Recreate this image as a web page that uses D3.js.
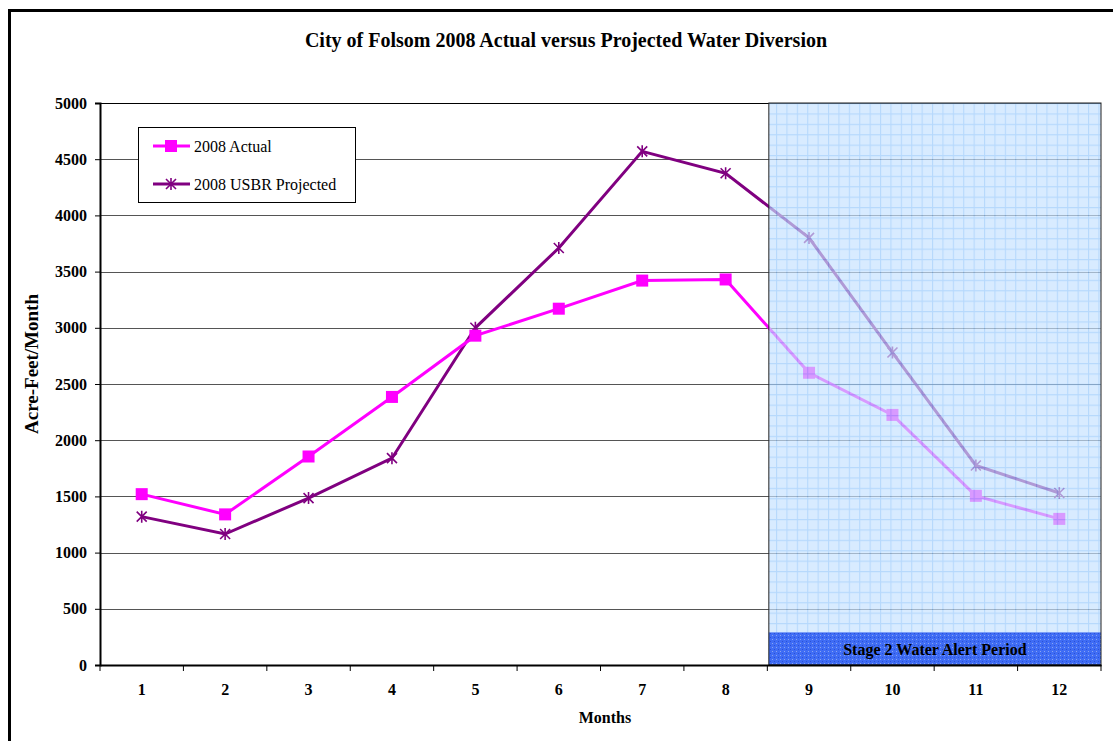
<!DOCTYPE html>
<html>
<head>
<meta charset="utf-8">
<script src="https://cdn.jsdelivr.net/npm/d3@7"></script>
<style>
body { margin: 0; background: #fff; }
text { font-family: "Liberation Serif", "Times New Roman", serif; }
</style>
</head>
<body>
<div id="canvas"></div>
<script>
const months = ["1", "2", "3", "4", "5", "6", "7", "8", "9", "10", "11", "12"]
const actual = [1520, 1340, 1855, 2385, 2930, 3170, 3420, 3430, 2600, 2225, 1505, 1300]
const projected = [1320, 1165, 1485, 1840, 3000, 3710, 4570, 4375, 3800, 2780, 1775, 1530]
const yTicks = [0, 500, 1000, 1500, 2000, 2500, 3000, 3500, 4000, 4500, 5000]
const alertMonths = ["9", "10", "11", "12"]

const width = 1113
const height = 741
const margin = { top: 103, left: 100, bottom: 76, right: 12 }
const iwidth = width - margin.left - margin.right
const iheight = height - margin.top - margin.bottom

const svg = d3.select("#canvas").append("svg")
    .attr("width", width)
    .attr("height", height)

// outer frame (runs off the right and bottom edge)
svg.append("rect")
    .attr("x", 9.5).attr("y", 10.5)
    .attr("width", 1120).attr("height", 760)
    .attr("fill", "none").attr("stroke", "#000").attr("stroke-width", 3)

svg.append("text")
    .attr("x", 566).attr("y", 47)
    .attr("text-anchor", "middle")
    .style("font-size", "20px").style("font-weight", "bold")
    .text("City of Folsom 2008 Actual versus Projected Water Diversion")

const defs = svg.append("defs")
const grid = defs.append("pattern")
    .attr("id", "grid").attr("patternUnits", "userSpaceOnUse")
    .attr("width", 10.4).attr("height", 10.4)
grid.append("rect").attr("width", 10.4).attr("height", 10.4).attr("fill", "#c6e2ff")
grid.append("path").attr("d", "M0,0.5H10.4M0.5,0V10.4")
    .attr("stroke", "#94c6fb").attr("stroke-width", 1.2)

const dots = defs.append("pattern")
    .attr("id", "dots").attr("patternUnits", "userSpaceOnUse")
    .attr("width", 4).attr("height", 4)
dots.append("rect").attr("width", 4).attr("height", 4).attr("fill", "#3f6cf4")
dots.append("rect").attr("width", 1).attr("height", 1).attr("fill", "#8aa4f0")
dots.append("rect").attr("x", 2).attr("y", 2).attr("width", 1).attr("height", 1).attr("fill", "#2950d8")

const g = svg.append("g")
    .attr("transform", `translate(${margin.left}, ${margin.top})`)

const x = d3.scaleBand()
    .domain(months)
    .range([0, iwidth])

const y = d3.scaleLinear()
    .domain([0, 5000])
    .range([iheight, 0])

// horizontal gridlines
g.selectAll(".grid")
    .data(yTicks.filter(d => d > 0))
    .enter()
    .append("line")
    .attr("x1", 0).attr("x2", iwidth)
    .attr("y1", d => Math.round(y(d)) + 0.5).attr("y2", d => Math.round(y(d)) + 0.5)
    .attr("stroke", d => d === 5000 ? "#000" : "#555")
    .attr("stroke-width", 1)

const lineGen = d3.line()
    .x((d, i) => x(months[i]) + x.bandwidth() / 2)
    .y(d => y(d))

g.append("path")
    .datum(projected)
    .attr("fill", "none").attr("stroke", "#800080").attr("stroke-width", 3)
    .attr("d", lineGen)

g.append("path")
    .datum(actual)
    .attr("fill", "none").attr("stroke", "#ff00ff").attr("stroke-width", 3)
    .attr("d", lineGen)

const star = (sel, s) => sel.append("path")
    .attr("d", `M${-s},${-s}L${s},${s}M${-s},${s}L${s},${-s}M0,${-s - 1}V${s + 1}`)
    .attr("stroke", "#800080").attr("stroke-width", 1.6).attr("fill", "none")

g.selectAll(".proj")
    .data(projected)
    .enter()
    .append("g")
    .attr("transform", (d, i) => `translate(${x(months[i]) + x.bandwidth() / 2}, ${y(d)})`)
    .each(function () { star(d3.select(this), 5) })

g.selectAll(".act")
    .data(actual)
    .enter()
    .append("rect")
    .attr("x", (d, i) => x(months[i]) + x.bandwidth() / 2 - 6)
    .attr("y", d => y(d) - 6)
    .attr("width", 12).attr("height", 12)
    .attr("fill", "#ff00ff")

// alert period overlay
const ax0 = x(alertMonths[0]) + 1.5
const ax1 = x(alertMonths[alertMonths.length - 1]) + x.bandwidth()
g.append("rect")
    .attr("x", ax0).attr("y", 0)
    .attr("width", ax1 - ax0).attr("height", iheight)
    .attr("fill", "url(#grid)").attr("opacity", 0.68)
g.append("rect")
    .attr("x", ax0).attr("y", y(290))
    .attr("width", ax1 - ax0).attr("height", iheight - y(290))
    .attr("fill", "url(#dots)")
g.append("rect")
    .attr("x", ax0).attr("y", 0)
    .attr("width", ax1 - ax0).attr("height", iheight)
    .attr("fill", "none").attr("stroke", "#222").attr("stroke-width", 1)
g.append("text")
    .attr("x", (ax0 + ax1) / 2).attr("y", y(145) + 6)
    .attr("text-anchor", "middle")
    .style("font-size", "16px").style("font-weight", "bold")
    .text("Stage 2 Water Alert Period")

// axes
const yAxis = g.append("g")
    .call(d3.axisLeft(y).tickValues(yTicks).tickFormat(d3.format("d")).tickSize(5).tickPadding(8))
yAxis.select(".domain").attr("stroke-width", 2)

const xAxis = g.append("g")
    .attr("transform", `translate(0, ${iheight})`)
    .call(d3.axisBottom(x).tickSize(0).tickPadding(19))
xAxis.select(".domain").attr("stroke-width", 2)
xAxis.selectAll(".bnd")
    .data(d3.range(months.length + 1))
    .enter()
    .append("line")
    .attr("x1", i => i * x.step()).attr("x2", i => i * x.step())
    .attr("y1", 0).attr("y2", 6)
    .attr("stroke", "#000")

g.selectAll(".tick text")
    .style("font-family", "Liberation Serif, serif")
    .style("font-size", "16px").style("font-weight", "bold")
    .attr("fill", "#000")

svg.append("text")
    .attr("transform", "translate(38, 364) rotate(-90)")
    .attr("text-anchor", "middle")
    .style("font-size", "19px").style("font-weight", "bold")
    .text("Acre-Feet/Month")

svg.append("text")
    .attr("x", 605).attr("y", 723)
    .attr("text-anchor", "middle")
    .style("font-size", "16px").style("font-weight", "bold")
    .text("Months")

// legend
const legend = svg.append("g").attr("transform", "translate(138, 127)")
legend.append("rect")
    .attr("x", 0.5).attr("y", 0.5).attr("width", 217).attr("height", 75)
    .attr("fill", "#fff").attr("stroke", "#000")
const items = [
    { name: "2008 Actual", color: "#ff00ff", y: 19 },
    { name: "2008 USBR Projected", color: "#800080", y: 57 }
]
items.forEach((it, k) => {
    legend.append("line")
        .attr("x1", 15).attr("x2", 52).attr("y1", it.y).attr("y2", it.y)
        .attr("stroke", it.color).attr("stroke-width", 3)
    if (k === 0) {
        legend.append("rect").attr("x", 27).attr("y", it.y - 6)
            .attr("width", 12).attr("height", 12).attr("fill", it.color)
    } else {
        star(legend.append("g").attr("transform", `translate(33, ${it.y})`), 5)
    }
    legend.append("text")
        .attr("x", 56).attr("y", it.y + 6)
        .style("font-size", "16px")
        .text(it.name)
})
</script>
</body>
</html>
